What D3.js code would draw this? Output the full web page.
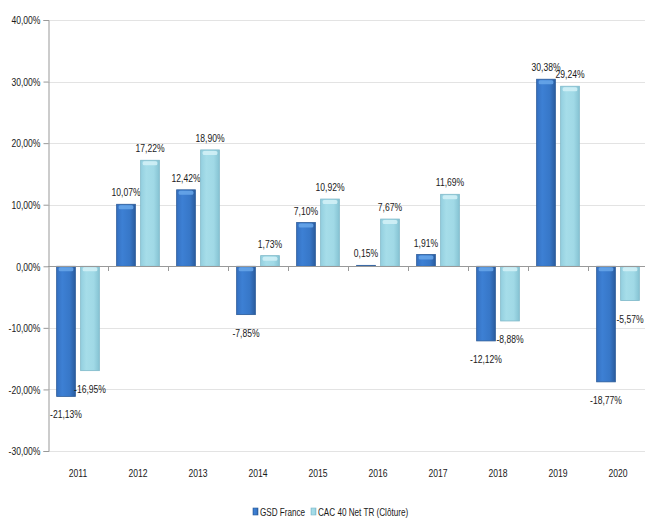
<!DOCTYPE html>
<html><head><meta charset="utf-8">
<script src="https://cdn.jsdelivr.net/npm/d3@7"></script>
<style>
html,body{margin:0;padding:0;background:#fff;}
svg{display:block;font-family:"Liberation Sans",Arial,sans-serif;}
</style></head>
<body>
<svg id="chart" width="645" height="518"></svg>
<script>
const years = ["2011","2012","2013","2014","2015","2016","2017","2018","2019","2020"];
const gsdFrance = [-21.13, 10.07, 12.42, -7.85, 7.10, 0.15, 1.91, -12.12, 30.38, -18.77];
const cac40 = [-16.95, 17.22, 18.90, 1.73, 10.92, 7.67, 11.69, -8.88, 29.24, -5.57];
const seriesNames = ["GSD France", "CAC 40 Net TR (Clôture)"];
const yTicks = [-30, -20, -10, 0, 10, 20, 30, 40];

const SX = 0.78; // condensed look
const svg = d3.select("#chart");
const defs = svg.append("defs");
function grad(id, stops){
  const g = defs.append("linearGradient").attr("id", id).attr("x1","0").attr("x2","1").attr("y1","0").attr("y2","0");
  stops.forEach(s => g.append("stop").attr("offset", s[0]).attr("stop-color", s[1]));
}
grad("gDark", [[0,"#3570c0"],[0.3,"#3d80d4"],[0.7,"#3777c8"],[1,"#2a5c9e"]]);
grad("gLight", [[0,"#93cfdf"],[0.3,"#a6dde9"],[0.7,"#a0d9e6"],[1,"#86c3d3"]]);

const fmt = v => (v < 0 ? "-" : "") + Math.abs(v).toFixed(2).replace(".", ",") + "%";
function narrowText(sel, x, y, sx){
  sel.attr("transform", `translate(${x},${y}) scale(${sx || SX},1)`).attr("x", 0).attr("y", 0);
}

const x = d3.scaleBand().domain(years).range([48, 648]).padding(0);
const y = d3.scaleLinear().domain([-30, 40]).range([451, 20]);

// gridlines
svg.append("g").selectAll("line").data(yTicks).join("line")
  .attr("x1", 48).attr("x2", 645)
  .attr("y1", d => Math.round(y(d)) + 0.5).attr("y2", d => Math.round(y(d)) + 0.5)
  .attr("stroke", "#e3e3e3").attr("stroke-width", 1);

// y axis
const yAxis = d3.axisLeft(y).tickValues(yTicks).tickSize(5).tickFormat(d => fmt(d));
const gy = svg.append("g").attr("transform", "translate(48.5,0)").call(yAxis);
gy.select(".domain").attr("stroke", "#999");
gy.selectAll(".tick line").attr("stroke", "#999");
gy.selectAll(".tick text").attr("font-size", 11).attr("fill", "#1a1a1a").attr("font-family", "inherit")
  .attr("dy", "0.35em").each(function(){ narrowText(d3.select(this), -8, 0); });

// bars
const inner = d3.scaleBand().domain([0,1]).range([0, x.bandwidth()]).paddingInner(0.22).paddingOuter(0.36);
const series = [gsdFrance, cac40];
const fills = ["url(#gDark)", "url(#gLight)"];
const strokes = ["#2a5a98", "#7fb9c9"];
const caps = ["#69a7ea", "#d4f1f7"];

series.forEach((vals, si) => {
  const g = svg.append("g");
  vals.forEach((v, i) => {
    const bx = x(years[i]) + inner(si);
    const bw = inner.bandwidth();
    const y0 = y(0), y1 = y(v);
    const top = Math.min(y0, y1), h = Math.max(Math.abs(y1 - y0), 1);
    g.append("rect").attr("x", bx).attr("y", top).attr("width", bw).attr("height", h)
      .attr("fill", fills[si]).attr("stroke", strokes[si]).attr("stroke-width", 0.8);
    if (h > 4) g.append("rect").attr("x", bx + 2).attr("y", top + 1)
      .attr("width", bw - 4).attr("height", Math.min(4, h - 2)).attr("rx", 1.5)
      .attr("fill", caps[si]).attr("opacity", 0.85);
    const t = g.append("text").attr("text-anchor", "middle").attr("font-size", 11).attr("fill", "#1a1a1a")
      .text(fmt(v));
    narrowText(t, bx + bw / 2, v >= 0 ? y1 - 8 : y1 + 22);
  });
});

// x axis at zero
svg.append("line").attr("x1", 48).attr("x2", 645)
  .attr("y1", Math.round(y(0)) + 0.5).attr("y2", Math.round(y(0)) + 0.5).attr("stroke", "#999");
svg.append("g").selectAll("line").data(years.slice(1)).join("line")
  .attr("x1", d => Math.round(x(d)) + 0.5).attr("x2", d => Math.round(x(d)) + 0.5)
  .attr("y1", Math.round(y(0))).attr("y2", Math.round(y(0)) + 5)
  .attr("stroke", "#999");

// category labels
svg.append("g").selectAll("text").data(years).join("text")
  .attr("text-anchor", "middle").attr("font-size", 11).attr("fill", "#1a1a1a")
  .text(d => d)
  .each(function(d){ narrowText(d3.select(this), x(d) + x.bandwidth() / 2, 477); });

// legend
const legend = svg.append("g");
const lx = [253, 311];
seriesNames.forEach((n, i) => {
  legend.append("rect").attr("x", lx[i]).attr("y", 508).attr("width", 5).attr("height", 7)
    .attr("fill", fills[i]).attr("stroke", strokes[i]).attr("stroke-width", 0.6);
  const t = legend.append("text").attr("font-size", 11).attr("fill", "#1a1a1a").text(n);
  narrowText(t, lx[i] + 7, 516, 0.74);
});
</script>
</body></html>
